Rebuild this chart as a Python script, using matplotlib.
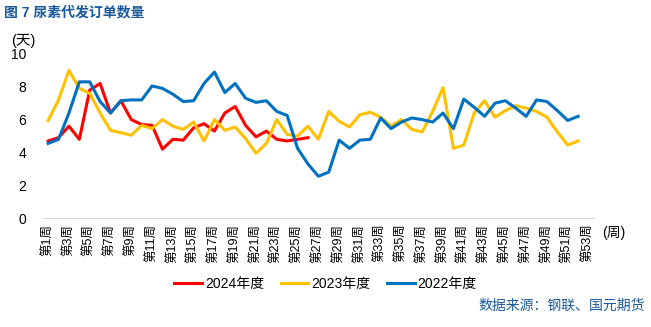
import numpy as np
import matplotlib
matplotlib.use('Agg')
import matplotlib.pyplot as plt

plt.rcParams['font.family'] = ['Liberation Sans', 'Noto Sans CJK SC', 'DejaVu Sans']

# weekly values (days)
y2024 = [4.7, 4.9, 5.6, 4.8, 7.8, 8.2, 6.4, 7.15, 6.0, 5.7, 5.65, 4.2, 4.8, 4.75,
         5.5, 5.75, 5.3, 6.4, 6.8, 5.65, 4.95, 5.3, 4.8, 4.7, 4.8, 4.9]
y2023 = [5.95, 7.2, 9.0, 7.9, 7.6, 6.4, 5.35, 5.2, 5.05, 5.65, 5.45, 6.0, 5.6, 5.4,
         5.85, 4.7, 6.0, 5.35, 5.55, 4.85, 3.95, 4.55, 6.0, 5.1, 5.0, 5.6, 4.8,
         6.5, 5.9, 5.55, 6.3, 6.45, 6.15, 5.6, 6.0, 5.4, 5.25, 6.5, 7.95, 4.25,
         4.45, 6.4, 7.15, 6.15, 6.55, 6.85, 6.7, 6.5, 6.15, 5.25, 4.45, 4.7]
y2022 = [4.55, 4.8, 6.4, 8.3, 8.3, 7.1, 6.4, 7.15, 7.2, 7.2, 8.05, 7.9, 7.55, 7.1,
         7.15, 8.2, 8.9, 7.65, 8.2, 7.3, 7.05, 7.15, 6.5, 6.25, 4.25, 3.3, 2.55,
         2.8, 4.75, 4.25, 4.75, 4.8, 6.1, 5.45, 5.85, 6.1, 6.0, 5.85, 6.4, 5.45,
         7.25, 6.75, 6.2, 7.0, 7.15, 6.7, 6.2, 7.2, 7.1, 6.55, 5.95, 6.2]
weeks = np.arange(1, 54)
tick_labels = ['第%d周' % w for w in weeks[::2]]

fig = plt.figure(figsize=(6.51, 3.27), dpi=100)
ax = fig.add_axes([0.066, 0.333, 0.846, 0.502])

ax.plot(weeks[:len(y2024)], y2024, color='#FF0000', lw=2.2, label='2024年度')
ax.plot(weeks[:len(y2023)], y2023, color='#FFC000', lw=2.2, label='2023年度')
ax.plot(weeks[:len(y2022)], y2022, color='#0070C0', lw=2.2, label='2022年度')

ax.set_xlim(0.5, 53.5)
ax.set_ylim(0, 10)
ax.set_yticks(np.arange(0, 11, 2))
ax.set_xticks(weeks[::2])
ax.set_xticklabels(tick_labels, rotation=90, fontsize=9)
ax.tick_params(axis='both', length=0)
ax.tick_params(axis='y', labelsize=10, pad=12)
ax.tick_params(axis='x', pad=4)

for s in ['top', 'right', 'left']:
    ax.spines[s].set_visible(False)
ax.spines['bottom'].set_color('#D9D9D9')

ax.text(-0.057, 1.035, '(天)', transform=ax.transAxes, fontsize=10.5, ha='left', va='bottom')
ax.text(1.015, -0.09, '(周)', transform=ax.transAxes, fontsize=10, ha='left', va='center')

fig.legend(loc='center', bbox_to_anchor=(0.5, 0.132), ncol=3, frameon=False,
           fontsize=10, handlelength=2.0, handletextpad=0.2, columnspacing=1.2)

fig.text(0.006, 0.962, '图 7 尿素代发订单数量', fontsize=10, fontweight='bold',
         color='#1B5A9C', ha='left', va='center')
fig.text(0.99, 0.064, '数据来源：钢联、国元期货', fontsize=10,
         color='#1B5A9C', ha='right', va='center')

fig.savefig('out.png', dpi=100)
